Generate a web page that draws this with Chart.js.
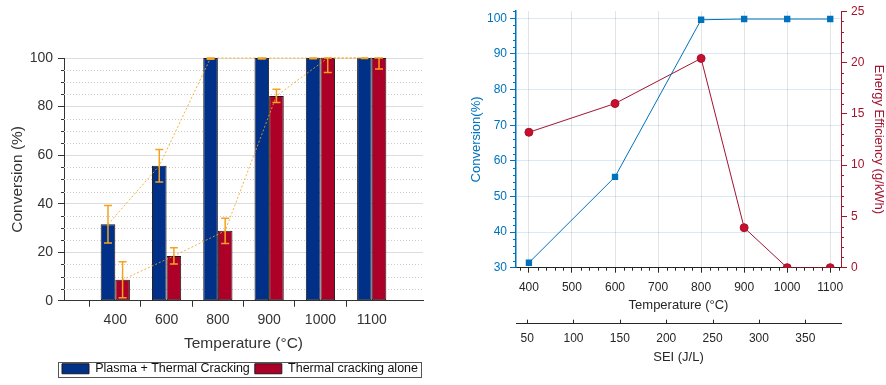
<!DOCTYPE html>
<html><head><meta charset="utf-8">
<script src="https://cdn.jsdelivr.net/npm/chart.js@4.4.1/dist/chart.umd.min.js"></script>
<style>
html,body{margin:0;padding:0;background:#fff;}
body{width:886px;height:385px;position:relative;overflow:hidden;}
#c1{position:absolute;left:0;top:0;}
#c2{position:absolute;left:446px;top:0;}
</style></head><body>
<canvas id="c1" width="480" height="385"></canvas>
<canvas id="c2" width="440" height="385"></canvas>
<script>
// ---------- left panel data ----------
const barTemps = ['400', '600', '800', '900', '1000', '1100'];
const plasmaConv = [31.5, 55.6, 100, 100, 100, 100];
const thermalConv = [8.7, 18.5, 28.8, 84.4, 100, 100];
const plasmaErr = [7.7, 6.7, 0.5, 0.4, 0.3, 0.2];
const thermalErr = [7.4, 3.3, 5.2, 2.7, 6.0, 4.5];
const barYTicks = [0, 20, 40, 60, 80, 100];

// ---------- right panel data ----------
const lineTemps = [400, 600, 800, 900, 1000, 1100];
const conversion = [31.4, 55.5, 99.6, 99.8, 99.8, 99.8];
const energyEff = [13.2, 16.0, 20.4, 3.9, 0, 0];
const tempTicks = [400, 500, 600, 700, 800, 900, 1000, 1100];
const convTicks = [30, 40, 50, 60, 70, 80, 90, 100];
const effTicks = [0, 5, 10, 15, 20, 25];
const seiTicks = [50, 100, 150, 200, 250, 300, 350];

Chart.defaults.font.family = '"Liberation Sans", Arial, Helvetica, sans-serif';
Chart.defaults.animation = false;

const BLUE = '#003087', RED = '#AD0029', ERR = '#F5A31F', INK = '#333333';
const RB = '#0072BD', RR = '#A2142F', AX = '#262626';
const CLEAR = 'rgba(0,0,0,0)';

const padLabels = ['', ...barTemps, ''];
const pad = arr => [null, ...arr, null];

const barDecor = {
  id: 'barDecor',
  beforeDatasetsDraw(chart) {
    const {ctx, chartArea: ca, scales: {y}} = chart;
    ctx.save();
    ctx.lineWidth = 1;
    for (let v = 5; v < 100; v += 5) {
      if (v % 20 === 0) continue;
      const py = Math.round(y.getPixelForValue(v)) + 0.5;
      ctx.strokeStyle = '#cccccc'; ctx.setLineDash([1, 2]);
      ctx.beginPath(); ctx.moveTo(ca.left, py); ctx.lineTo(ca.right, py); ctx.stroke();
      ctx.setLineDash([]); ctx.strokeStyle = INK;
      ctx.beginPath(); ctx.moveTo(ca.left - 3, py); ctx.lineTo(ca.left, py); ctx.stroke();
    }
    ctx.restore();
  },
  afterDatasetsDraw(chart) {
    const {ctx, scales: {y}} = chart;
    const errs = [plasmaErr, thermalErr];
    ctx.save();
    chart.data.datasets.forEach((ds, di) => {
      const meta = chart.getDatasetMeta(di);
      ctx.strokeStyle = 'rgba(245,163,31,0.85)'; ctx.lineWidth = 1; ctx.setLineDash([2, 2]);
      ctx.beginPath(); let first = true;
      meta.data.forEach((el, i) => {
        if (ds.data[i] == null) return;
        if (first) ctx.moveTo(el.x, el.y); else ctx.lineTo(el.x, el.y);
        first = false;
      });
      ctx.stroke();
    });
    ctx.setLineDash([]); ctx.strokeStyle = ERR; ctx.lineWidth = 1.5;
    chart.data.datasets.forEach((ds, di) => {
      const meta = chart.getDatasetMeta(di);
      meta.data.forEach((el, i) => {
        const v = ds.data[i]; if (v == null) return;
        const e = errs[di][i - 1];
        const yt = y.getPixelForValue(Math.min(v + e, y.max));
        const yb = y.getPixelForValue(v - e);
        const x = el.x;
        ctx.beginPath();
        ctx.moveTo(x, yt); ctx.lineTo(x, yb);
        ctx.moveTo(x - 4, yt); ctx.lineTo(x + 4, yt);
        ctx.moveTo(x - 4, yb); ctx.lineTo(x + 4, yb);
        ctx.stroke();
      });
    });
    ctx.restore();
  },
  afterDraw(chart) {
    const hb = chart.legend && chart.legend.legendHitBoxes;
    if (!hb || !hb.length) return;
    const ctx = chart.ctx;
    const x0 = Math.min(...hb.map(h => h.left)) - 4;
    const x1 = Math.max(...hb.map(h => h.left + h.width)) + 3;
    const y0 = hb[0].top - 1, y1 = hb[0].top + hb[0].height + 1;
    ctx.save();
    ctx.strokeStyle = '#555'; ctx.lineWidth = 1;
    ctx.strokeRect(Math.round(x0) + 0.5, Math.round(y0) + 0.5, Math.round(x1 - x0), Math.round(y1 - y0));
    ctx.restore();
  }
};

new Chart(document.getElementById('c1'), {
  type: 'bar',
  data: {
    labels: padLabels,
    datasets: [
      { label: 'Plasma + Thermal Cracking', data: pad(plasmaConv), backgroundColor: BLUE, borderColor: '#1a1a1a', borderWidth: 1, borderSkipped: false, categoryPercentage: 0.57, barPercentage: 1 },
      { label: 'Thermal cracking alone', data: pad(thermalConv), backgroundColor: RED, borderColor: '#1a1a1a', borderWidth: 1, borderSkipped: false, categoryPercentage: 0.57, barPercentage: 1 }
    ]
  },
  options: {
    responsive: false,
    layout: { padding: { top: 58, right: 0, left: 0, bottom: 0 } },
    plugins: {
      tooltip: { enabled: false },
      legend: { position: 'bottom', labels: { boxWidth: 27, boxHeight: 10, font: { size: 12.5 }, color: '#111', padding: 5 } }
    },
    scales: {
      x: {
        type: 'category', offset: false,
        grid: { display: true, drawOnChartArea: false, drawTicks: true, tickLength: 6, tickColor: c => padLabels[c.index] ? INK : CLEAR },
        border: { display: true, color: INK, width: 1 },
        ticks: { color: INK, font: { size: 14 }, padding: 5, autoSkip: false, maxRotation: 0 },
        title: { display: true, text: 'Temperature (°C)', color: INK, font: { size: 15.5 }, padding: { top: 0, bottom: 4.5 } },
        afterFit: s => { s.height = 56.7; }
      },
      y: {
        min: 0, max: 100,
        afterBuildTicks: s => { s.ticks = barYTicks.map(v => ({ value: v })); },
        grid: { color: c => (c.tick && c.tick.value === 0) ? CLEAR : '#dddddd', tickColor: INK, tickLength: 6 },
        border: { color: INK, width: 1 },
        ticks: { color: INK, font: { size: 14 }, padding: 5 },
        title: { display: true, text: 'Conversion (%)', color: INK, font: { size: 15.5 }, padding: { top: 8, bottom: 0 } },
        afterFit: s => { s.width = 64; }
      },
      yPad: {
        position: 'right', display: true,
        grid: { display: false }, border: { display: false }, ticks: { display: false },
        afterFit: s => { s.width = 57; }
      }
    }
  },
  plugins: [barDecor]
});

const lineDecor = {
  id: 'lineDecor',
  afterDraw(chart) {
    const {ctx, chartArea: ca, scales: {x, x2, y, y2}} = chart;
    ctx.save(); ctx.lineWidth = 1;
    const seg = (a, b, c, d) => { ctx.beginPath(); ctx.moveTo(a, b); ctx.lineTo(c, d); ctx.stroke(); };
    ctx.strokeStyle = AX;
    for (let v = 380; v <= 1120; v += 20) {
      if (v % 100 === 0) continue;
      const px = Math.round(x.getPixelForValue(v)) + 0.5;
      seg(px, ca.bottom, px, ca.bottom + 3);
    }
    for (const v of seiTicks) {
      const px = Math.round(x2.getPixelForValue(v)) + 0.5;
      seg(px, x2.top - 4, px, x2.top);
    }
    ctx.strokeStyle = RB;
    for (let v = 32; v <= 102; v += 2) {
      if (v % 10 === 0) continue;
      const py = Math.round(y.getPixelForValue(v)) + 0.5;
      seg(ca.left - 3, py, ca.left, py);
    }
    ctx.strokeStyle = RR;
    for (let v = 1; v < 25; v += 1) {
      if (v % 5 === 0) continue;
      const py = Math.round(y2.getPixelForValue(v)) + 0.5;
      seg(ca.right, py, ca.right + 3, py);
    }
    ctx.restore();
  }
};

const num = v => String(v);

new Chart(document.getElementById('c2'), {
  type: 'line',
  data: {
    datasets: [
      { label: 'Conversion', data: lineTemps.map((t, i) => ({ x: t, y: conversion[i] })), xAxisID: 'x', yAxisID: 'y',
        borderColor: RB, borderWidth: 1, pointStyle: 'rect', pointRadius: 4.5, pointBackgroundColor: RB, pointBorderColor: RB, pointBorderWidth: 0, tension: 0 },
      { label: 'Energy Efficiency', data: lineTemps.map((t, i) => ({ x: t, y: energyEff[i] })), xAxisID: 'x', yAxisID: 'y2',
        borderColor: RR, borderWidth: 1, pointStyle: 'circle', pointRadius: 4, pointBackgroundColor: '#C8102E', pointBorderColor: RR, pointBorderWidth: 1, tension: 0 }
    ]
  },
  options: {
    responsive: false,
    layout: { padding: { top: 5.5, left: 0, right: 0, bottom: 0 } },
    plugins: { legend: { display: false }, tooltip: { enabled: false } },
    scales: {
      x: {
        type: 'linear', position: 'bottom', min: 370, max: 1125, weight: 0,
        afterBuildTicks: s => { s.ticks = tempTicks.map(v => ({ value: v })); },
        grid: { color: '#e3e3e3', tickColor: AX, tickLength: 5 },
        border: { color: AX, width: 1 },
        ticks: { color: AX, font: { size: 12 }, padding: 8, maxRotation: 0, autoSkip: false, callback: num },
        title: { display: true, text: 'Temperature (°C)', color: AX, font: { size: 13 }, padding: { top: 0, bottom: 10 } },
        afterFit: s => { s.height = 56; }
      },
      x2: {
        type: 'linear', position: 'bottom', min: 38, max: 388.5, weight: 1,
        afterBuildTicks: s => { s.ticks = seiTicks.map(v => ({ value: v })); },
        grid: { drawOnChartArea: false, drawTicks: false },
        border: { color: AX, width: 1 },
        ticks: { color: AX, font: { size: 12 }, padding: 8, maxRotation: 0, autoSkip: false, callback: num },
        title: { display: true, text: 'SEI (J/L)', color: AX, font: { size: 13 }, padding: { top: 0, bottom: 20 } },
        afterFit: s => { s.height = 61.3; }
      },
      y: {
        type: 'linear', position: 'left', min: 30, max: 102,
        afterBuildTicks: s => { s.ticks = convTicks.map(v => ({ value: v })); },
        grid: { color: c => (c.tick && c.tick.value === 30) ? CLEAR : 'rgba(0,114,189,0.15)', tickColor: RB, tickLength: 6 },
        border: { color: RB, width: 1.5 },
        ticks: { color: RB, font: { size: 12 }, padding: 3, callback: num },
        title: { display: true, text: 'Conversion(%)', color: RB, font: { size: 13 }, padding: { top: 23, bottom: 0 } },
        afterFit: s => { s.width = 70; }
      },
      y2: {
        type: 'linear', position: 'right', min: 0, max: 25,
        afterBuildTicks: s => { s.ticks = effTicks.map(v => ({ value: v })); },
        grid: { drawOnChartArea: false, tickColor: RR, tickLength: 6 },
        border: { color: RR, width: 1 },
        ticks: { color: RR, font: { size: 12 }, padding: 4, callback: num },
        title: { display: true, text: 'Energy Efficiency (g/kWh)', color: RR, font: { size: 13 }, padding: { top: 0, bottom: 0 } },
        afterFit: s => { s.width = 45; }
      }
    }
  },
  plugins: [lineDecor]
});
</script>
</body></html>
